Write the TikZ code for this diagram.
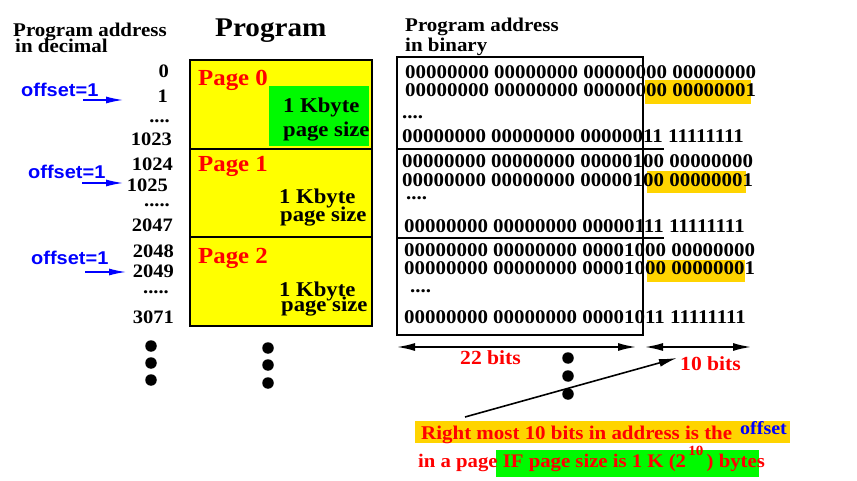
\documentclass[tikz,border=0pt]{standalone}
\usepackage{fontspec}
\usetikzlibrary{arrows.meta}
\newfontfamily\tb[FakeStretch=1.08]{Liberation Serif}
\newfontfamily\hb[FakeStretch=1.08]{Liberation Sans}
\newcommand\fsz[1]{\fontsize{#1}{#1}\selectfont}
\definecolor{gold}{RGB}{255,212,0}
\definecolor{kgreen}{RGB}{0,250,0}
\definecolor{kyellow}{RGB}{255,255,0}
\definecolor{kred}{RGB}{255,0,0}
\definecolor{kblue}{RGB}{0,0,255}
\begin{document}
\begin{tikzpicture}[x=1pt,y=-1pt,
  txt/.style={inner sep=0pt, anchor=base west, font=\tb\bfseries\fsz{19.4}},
  num/.style={inner sep=0pt, anchor=base east, font=\tb\bfseries\fsz{19}},
  bin/.style={inner sep=0pt, anchor=base west, font=\tb\bfseries\fsz{19.4}},
  pg/.style={inner sep=0pt, anchor=base west, font=\tb\bfseries\fsz{23}, text=kred},
  kb/.style={inner sep=0pt, anchor=base west, font=\tb\bfseries\fsz{21}},
  off/.style={inner sep=0pt, anchor=base west, font=\hb\bfseries\fsz{18.5}, text=kblue},
  bits/.style={inner sep=0pt, anchor=base west, font=\tb\bfseries\fsz{20}, text=kred},
  dot/.style={circle, fill=black, inner sep=0pt, minimum size=11.5pt},
  blarrow/.style={kblue, line width=1.3pt, -{Latex[length=17pt,width=7pt]}},
  karrow/.style={black, line width=1.6pt, -{Latex[length=18pt,width=8pt]}},
  dkarrow/.style={black, line width=1.6pt, {Latex[length=18pt,width=8pt]}-{Latex[length=18pt,width=8pt]}},
  frame/.style={draw=black, line width=1.2pt}]
\useasboundingbox (0,0) rectangle (857,481);
\fill[white] (0,0) rectangle (857,481);

% ---------- headers ----------
\node[txt] (hd1) at (13,37) {Program address};
\node[txt] (hd2) at (15,53) {in decimal};
\node[inner sep=0pt, anchor=base west, font=\tb\bfseries\fsz{27}] (title) at (215,37) {Program};
\node[txt] (hb1) at (405,32) {Program address};
\node[txt] (hb2) at (405,52) {in binary};

% ---------- program pages ----------
\fill[kyellow] (190,60) rectangle (372,326);
\fill[kgreen] (269,86) rectangle (369,146);
\draw[frame] (190,60) rectangle (372,326);
\draw[frame] (190,149) -- (372,149);
\draw[frame] (190,237) -- (372,237);
\node[pg] (p0) at (198,86) {Page 0};
\node[pg] (p1) at (198,172) {Page 1};
\node[pg] (p2) at (198,263) {Page 2};
\node[kb] (k0a) at (283,113) {1 Kbyte};
\node[kb] (k0b) at (283,137) {page size};
\node[kb] (k1a) at (279,204) {1 Kbyte};
\node[kb] (k1b) at (280,222) {page size};
\node[kb] (k2a) at (279,297) {1 Kbyte};
\node[kb] (k2b) at (281,312) {page size};

% ---------- decimal addresses ----------
\node[num] (n0) at (169,78) {0};
\node[num] (n1) at (168,103) {1};
\node[num] (n2) at (170,123) {....};
\node[num] (n3) at (172,146) {1023};
\node[num] (n4) at (173,171) {1024};
\node[num] (n5) at (168,192) {1025};
\node[num] (n6) at (170,207) {.....};
\node[num] (n7) at (173,232) {2047};
\node[num] (n8) at (174,258) {2048};
\node[num] (n9) at (174,277) {2049};
\node[num] (n10) at (169,293) {.....};
\node[num] (n11) at (174,323) {3071};

% ---------- offset labels ----------
\node[off] (o1) at (21,97) {offset=1};
\node[off] (o2) at (28,179) {offset=1};
\node[off] (o3) at (31,265) {offset=1};
\coordinate (a1s) at (83,100); \coordinate (a1e) at (123,100);
\coordinate (a2s) at (82,183); \coordinate (a2e) at (123,183);
\coordinate (a3s) at (85,272); \coordinate (a3e) at (126,272);
\draw[blarrow] (a1s) -- (a1e);
\draw[blarrow] (a2s) -- (a2e);
\draw[blarrow] (a3s) -- (a3e);

% ---------- dots ----------
\node[dot] (dl1) at (151,346) {};
\node[dot] (dl2) at (151,363) {};
\node[dot] (dl3) at (151,380) {};
\node[dot] (dm1) at (268,348) {};
\node[dot] (dm2) at (268,365) {};
\node[dot] (dm3) at (268,383) {};
\node[dot] (dr1) at (568,358) {};
\node[dot] (dr2) at (568,376) {};
\node[dot] (dr3) at (568,394) {};

% ---------- binary addresses ----------
\fill[gold] (645,80) rectangle (751,104);
\fill[gold] (647,171) rectangle (746,193);
\fill[gold] (647,260) rectangle (745,282);
\draw[frame] (397,57) rectangle (643,335);
\draw[frame] (397,149) -- (664,149);
\draw[frame] (397,238) -- (664,238);

\node[bin] (b1) at (405,79) {00000000 00000000 00000000 00000000};
\node[bin] (b2) at (405,97) {00000000 00000000 00000000 00000001};
\node[bin] (b3) at (402,119) {....};
\node[bin] (b4) at (402,143) {00000000 00000000 00000011 11111111};
\node[bin] (b5) at (402,168) {00000000 00000000 00000100 00000000};
\node[bin] (b6) at (402,187) {00000000 00000000 00000100 00000001};
\node[bin] (b7) at (406,200) {....};
\node[bin] (b8) at (404,233) {00000000 00000000 00000111 11111111};
\node[bin] (b9) at (404,257) {00000000 00000000 00001000 00000000};
\node[bin] (b10) at (404,274) {00000000 00000000 00001000 00000001};
\node[bin] (b11) at (410,292) {....};
\node[bin] (b12) at (404,323) {00000000 00000000 00001011 11111111};

% ---------- bit ranges ----------
\coordinate (l22) at (397,347); \coordinate (r22) at (636,347);
\coordinate (l10) at (645,347); \coordinate (r10) at (751,347);
\draw[dkarrow] (l22) -- (r22);
\draw[dkarrow] (l10) -- (r10);
\node[bits] (t22) at (460,364) {22 bits};
\node[bits] (t10) at (680,370) {10 bits};

% ---------- explanation ----------
\fill[gold] (415,421) rectangle (790,443);
\fill[kgreen] (496,450) rectangle (759,477);
\node[txt, text=kred] (e1) at (421,439) {Right most 10 bits in address is the};
\node[inner sep=0pt, anchor=base west, font=\tb\bfseries\fsz{18.5}, text=kblue] (e1o) at (740,434) {offset};
\node[txt, text=kred, font=\tb\bfseries\fsz{19.2}] (e2) at (418,467) {in a page IF page size is 1 K (2\raisebox{12pt}{\fsz{14}\,10}\,) bytes};
\coordinate (dgs) at (465,417); \coordinate (dge) at (677,358);
\draw[karrow] (dgs) -- (dge);
\end{tikzpicture}
\end{document}
